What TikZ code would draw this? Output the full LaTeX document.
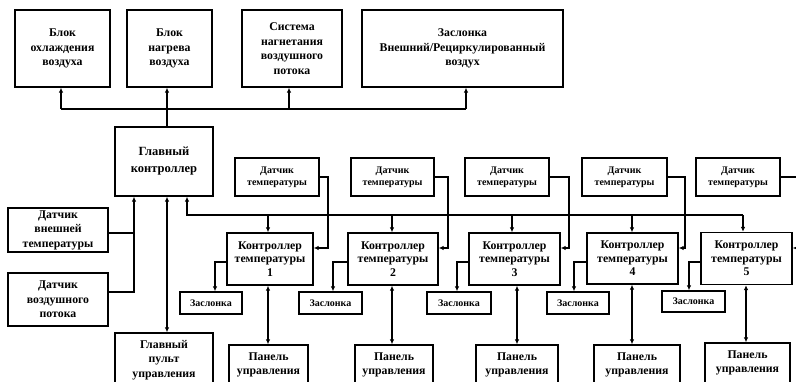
\documentclass[tikz,border=0pt]{standalone}
\usepackage{fontspec}
\setmainfont{Liberation Serif}
\usetikzlibrary{arrows.meta}
\tikzset{
  box/.style={draw, line width=1.3pt, fill=white, align=center, inner sep=0pt},
  fbig/.style={font=\fontsize{11.8}{14.5}\selectfont\bfseries},
  fmain/.style={font=\fontsize{12.5}{17}\selectfont\bfseries},
  fctrl/.style={font=\fontsize{11.8}{13.5}\selectfont\bfseries},
  fsmall/.style={font=\fontsize{10}{12}\selectfont\bfseries},
  ln/.style={line width=1.1pt},
  arr/.style={ln, -{Latex[length=5pt,width=4.5pt]}},
  darr/.style={ln, {Latex[length=5pt,width=4.5pt]}-{Latex[length=5pt,width=4.5pt]}},
}
\begin{document}
\begin{tikzpicture}[x=1pt,y=-1pt]
\useasboundingbox (0,0) rectangle (796,382);
\clip (0,0) rectangle (796,382);
\fill[white] (0,0) rectangle (796,382);
% top row
\node[box,fbig,minimum width=95pt,minimum height=77pt] (t1) at (62.5,48.5) {Блок\\охлаждения\\воздуха};
\node[box,fbig,minimum width=85pt,minimum height=77pt] (t2) at (169.5,48.5) {Блок\\нагрева\\воздуха};
\node[box,fbig,minimum width=100pt,minimum height=77pt] (t3) at (292,48.5) {Система\\нагнетания\\воздушного\\потока};
\node[box,fbig,minimum width=201pt,minimum height=77pt] (t4) at (462.5,48.5) {Заслонка\\Внешний/Рециркулированный\\воздух};
% left
\node[box,fmain,minimum width=98pt,minimum height=69pt] (mc) at (164,161.5) {Главный\\контроллер};
\node[box,fbig,minimum width=100pt,minimum height=44pt] (ext) at (58,230) {Датчик\\внешней\\температуры};
\node[box,fbig,minimum width=100pt,minimum height=53pt] (air) at (58,299.5) {Датчик\\воздушного\\потока};
\node[box,fbig,minimum width=98pt,minimum height=54pt] (mp) at (164,360) {Главный\\пульт\\управления};
% sensors
\node[box,fsmall,minimum width=84pt,minimum height=38pt] (s1) at (277,177) {Датчик\\температуры};
\node[box,fsmall,minimum width=83pt,minimum height=38pt] (s2) at (392.5,177) {Датчик\\температуры};
\node[box,fsmall,minimum width=84pt,minimum height=38pt] (s3) at (507,177) {Датчик\\температуры};
\node[box,fsmall,minimum width=85pt,minimum height=38pt] (s4) at (624.5,177) {Датчик\\температуры};
\node[box,fsmall,minimum width=84pt,minimum height=38pt] (s5) at (738,177) {Датчик\\температуры};
% controllers
\node[box,fctrl,minimum width=86pt,minimum height=52pt] (c1) at (270,259) {Контроллер\\температуры\\1};
\node[box,fctrl,minimum width=90pt,minimum height=52pt] (c2) at (393,259) {Контроллер\\температуры\\2};
\node[box,fctrl,minimum width=91pt,minimum height=52pt] (c3) at (514.5,259) {Контроллер\\температуры\\3};
\node[box,fctrl,minimum width=91pt,minimum height=51pt] (c4) at (632.5,258.5) {Контроллер\\температуры\\4};
\node[box,fctrl,minimum width=91pt,minimum height=52pt] (c5) at (746.5,258.5) {Контроллер\\температуры\\5};
% dampers
\node[box,fsmall,minimum width=62pt,minimum height=22pt] (z1) at (211,303) {Заслонка};
\node[box,fsmall,minimum width=63pt,minimum height=22pt] (z2) at (330.5,303) {Заслонка};
\node[box,fsmall,minimum width=64pt,minimum height=22pt] (z3) at (459,303) {Заслонка};
\node[box,fsmall,minimum width=62pt,minimum height=22pt] (z4) at (578,303) {Заслонка};
\node[box,fsmall,minimum width=63pt,minimum height=21pt] (z5) at (693.5,301.5) {Заслонка};
% panels
\node[box,fbig,minimum width=79pt,minimum height=40pt] (p1) at (268.5,365) {Панель\\управления};
\node[box,fbig,minimum width=78pt,minimum height=40pt] (p2) at (394,365) {Панель\\управления};
\node[box,fbig,minimum width=82pt,minimum height=40pt] (p3) at (517,365) {Панель\\управления};
\node[box,fbig,minimum width=86pt,minimum height=40pt] (p4) at (637,365) {Панель\\управления};
\node[box,fbig,minimum width=85pt,minimum height=40pt] (p5) at (747.5,363) {Панель\\управления};
% top bus
\coordinate (tb) at (167,109);
\coordinate (tb1) at (61,109);
\coordinate (tb3) at (289,109);
\coordinate (tb4) at (466,109);
\draw[ln] (tb1) -- (tb4);
\draw[arr] (mc.north -| tb) -- (t2.south -| tb);
\draw[arr] (tb1) -- (t1.south -| tb1);
\draw[arr] (tb3) -- (t3.south -| tb3);
\draw[arr] (tb4) -- (t4.south -| tb4);
% sensors to main controller
\coordinate (j1) at (134,233);
\coordinate (j2) at (134,292);
\draw[ln] (j1 -| ext.east) -- (j1);
\draw[arr] (j2 -| air.east) -- (j2) -- (mc.south -| j2);
% main controller - main panel
\coordinate (mx) at (167,200);
\draw[darr] (mc.south -| mx) -- (mp.north -| mx);
% controller bus
\coordinate (cb) at (187,215);
\coordinate (cb1) at (268,215);
\coordinate (cb2) at (392,215);
\coordinate (cb3) at (512,215);
\coordinate (cb4) at (632,215);
\coordinate (cb5) at (743,215);
\draw[arr] (cb5) -- (cb) -- (mc.south -| cb);
\draw[arr] (cb1) -- (c1.north -| cb1);
\draw[arr] (cb2) -- (c2.north -| cb2);
\draw[arr] (cb3) -- (c3.north -| cb3);
\draw[arr] (cb4) -- (c4.north -| cb4);
\draw[arr] (cb5) -- (c5.north -| cb5);
% sensor to controller
\coordinate (k1) at (328,248);
\coordinate (k2) at (448,248);
\coordinate (k3) at (569,248);
\coordinate (k4) at (685,248);
\coordinate (k5) at (802,248);
\draw[arr] (s1.east) -| (k1) -- (k1 -| c1.east);
\draw[arr] (s2.east) -| (k2) -- (k2 -| c2.east);
\draw[arr] (s3.east) -| (k3) -- (k3 -| c3.east);
\draw[arr] (s4.east) -| (k4) -- (k4 -| c4.east);
\draw[arr] (s5.east) -| (k5) -- (k5 -| c5.east);
% controller to damper
\coordinate (d1) at (215,262);
\coordinate (d2) at (333,262);
\coordinate (d3) at (457,262);
\coordinate (d4) at (574,262);
\coordinate (d5) at (689,262);
\draw[arr] (d1 -| c1.west) -- (d1) -- (z1.north -| d1);
\draw[arr] (d2 -| c2.west) -- (d2) -- (z2.north -| d2);
\draw[arr] (d3 -| c3.west) -- (d3) -- (z3.north -| d3);
\draw[arr] (d4 -| c4.west) -- (d4) -- (z4.north -| d4);
\draw[arr] (d5 -| c5.west) -- (d5) -- (z5.north -| d5);
% controller - panel
\coordinate (q1) at (268,300);
\coordinate (q2) at (392,300);
\coordinate (q3) at (517,300);
\coordinate (q4) at (632,300);
\coordinate (q5) at (746,300);
\draw[darr] (c1.south -| q1) -- (p1.north -| q1);
\draw[darr] (c2.south -| q2) -- (p2.north -| q2);
\draw[darr] (c3.south -| q3) -- (p3.north -| q3);
\draw[darr] (c4.south -| q4) -- (p4.north -| q4);
\draw[darr] (c5.south -| q5) -- (p5.north -| q5);
\end{tikzpicture}
\end{document}
